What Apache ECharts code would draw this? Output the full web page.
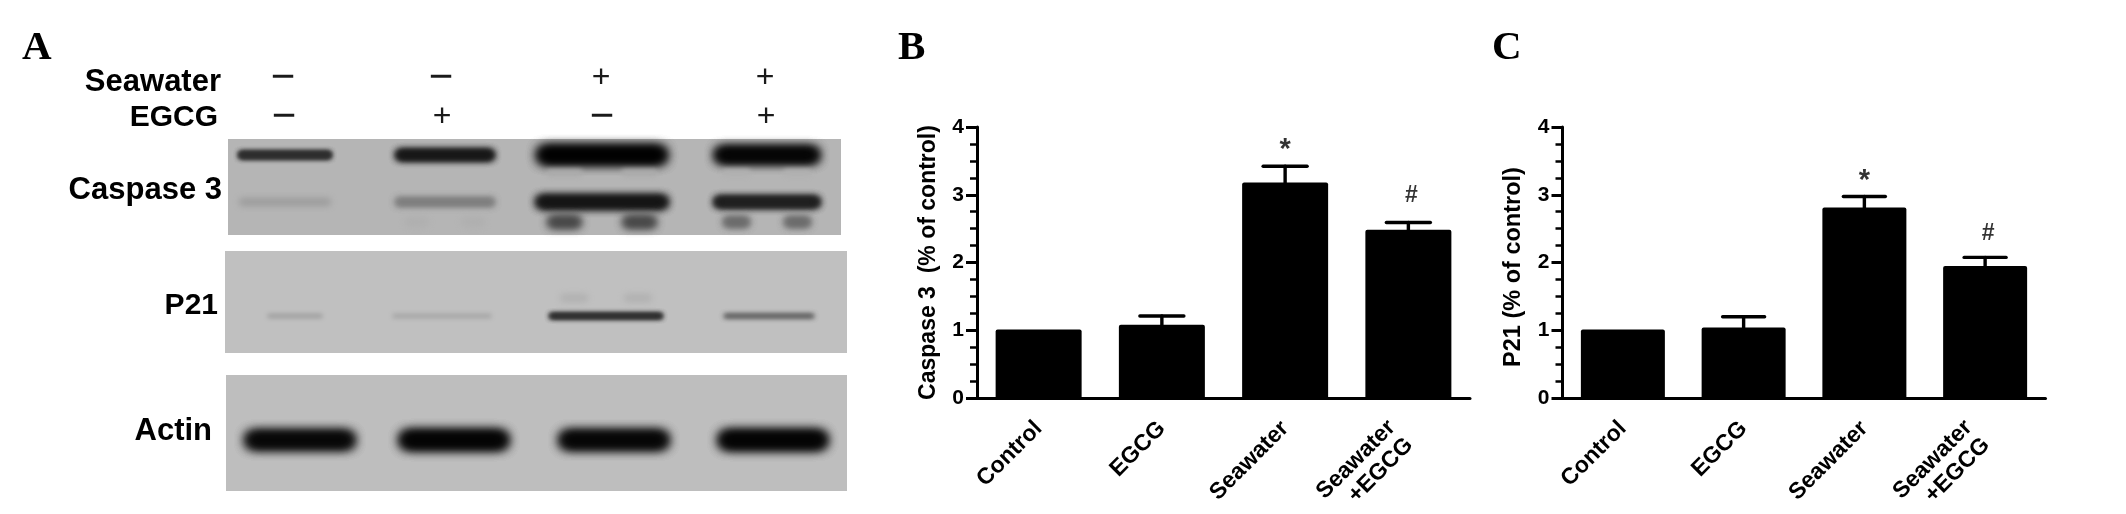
<!DOCTYPE html>
<html><head><meta charset="utf-8">
<style>html,body{margin:0;padding:0;background:#fff}#c{width:2126px;height:514px}</style>
<script src="https://cdn.jsdelivr.net/npm/echarts@6/dist/echarts.min.js"></script>
</head><body><div id="c"></div>
<script>
// ---------- values ----------
const categories = ['Control', 'EGCG', 'Seawater', 'Seawater\n+EGCG'];
const yTicks = [0, 1, 2, 3, 4];
const caspaseValues = [1.01, 1.08, 3.18, 2.485];
const caspaseErrorTop = [null, 1.21, 3.42, 2.59];
const caspaseMarks = [null, null, '*', '#'];
const caspaseMarkLevel = [null, null, 3.75, 2.98];
const p21Values = [1.01, 1.04, 2.81, 1.95];
const p21ErrorTop = [null, 1.2, 2.975, 2.075];
const p21Marks = [null, null, '*', '#'];
const p21MarkLevel = [null, null, 3.29, 2.42];

const seawaterFlags = ['\u2212', '\u2212', '+', '+'];
const egcgFlags = ['\u2212', '+', '\u2212', '+'];

// blot band strength per lane, 0 = nothing, 1 = saturated
const caspaseUpperBand = [0.62, 0.78, 1, 0.95];
const caspaseFaintBand = [0, 0, 0.04, 0.02];
const caspaseLowerBand = [0.1, 0.22, 0.8, 0.72];
const caspaseLowestBand = [0, 0.03, 0.48, 0.3];
const p21Band = [0.2, 0.15, 0.65, 0.45];
const p21SmearBand = [0, 0, 0.02, 0];
const actinBand = [0.92, 0.95, 0.93, 0.95];

// ---------- layout ----------
const W = 2126, H = 514;
const PLOT_TOP = 127, PLOT_H = 271;
const BLOTS = [
  {x:228, y:139, w:613, h:96, bg:'#b5b5b5'},
  {x:225, y:251, w:622, h:102, bg:'#c0c0c0'},
  {x:226, y:375, w:621, h:116, bg:'#bebebe'}
];
const lanesTop = [[57,98],[217,105],[374,139],[539,113]];
const lanesP21 = [[70,60],[217,104],[381,118],[544,95]];
const lanesActin = [[74,118],[228,118],[388,118],[547,118]];
const FONT = '"Liberation Sans", Arial, sans-serif';
const SERIF = '"Liberation Serif", "Times New Roman", serif';

function bandRow(lanes, strengths, rowY, thick, lobes) {
  const out = [];
  strengths.forEach((s, i) => {
    if (!s) return;
    const [cx, w] = lanes[i];
    const t = thick[0] + thick[1] * s * s * s;
    if (lobes) {
      out.push([cx - w * 0.27, rowY, s, w * 0.3, t]);
      out.push([cx + w * 0.27, rowY, s, w * 0.3, t]);
    } else {
      out.push([cx, rowY, s, w, t]);
    }
  });
  return out;
}
function bandItem(params, api) {
  const c = api.coord([api.value(0), api.value(1)]);
  const s = api.value(2), w = api.value(3), t = api.value(4);
  const g = Math.round(183 * (1 - s) * (1 - s) * 0.55 + 183 * (1 - s) * 0.45);
  const col = 'rgb(' + g + ',' + g + ',' + g + ')';
  const OFF = 3000;
  const blur = Math.max(5, t * 0.55);
  const kids = [];
  const passes = s > 0.5 ? 3 : (s > 0.2 ? 2 : 1);
  for (let i = 0; i < passes; i++) {
    kids.push({type:'rect',
      shape:{x:c[0] - w/2 + blur/2 - OFF, y:c[1] - t/2 + blur/4, width:w - blur, height:Math.max(1, t - blur/2), r:t/2},
      style:{fill:col, shadowColor:col, shadowBlur:blur, shadowOffsetX:OFF}, silent:true});
  }
  return {type:'group', children:kids};
}
function blotSeries(gridIndex, data) {
  return {type:'custom', coordinateSystem:'cartesian2d', xAxisIndex:gridIndex, yAxisIndex:gridIndex,
    clip:false, silent:true, renderItem:bandItem, encode:{x:0, y:1}, data};
}
function errorItem(params, api) {
  const i = api.value(0), hi = api.value(1), base = api.value(2);
  const top = api.coord([i, hi]), bot = api.coord([i, base]);
  const half = api.value(3) / 2;
  const st = {stroke:'#000', lineWidth:3.4, lineCap:'round'};
  return {type:'group', children:[
    {type:'line', shape:{x1:top[0], y1:top[1], x2:bot[0], y2:bot[1]}, style:st},
    {type:'line', shape:{x1:top[0]-half, y1:top[1], x2:top[0]+half, y2:top[1]}, style:st}
  ]};
}

function plotSeries(idx, values, errs, marks, levels, barW, capW) {
  return [
    {type:'bar', xAxisIndex:idx, yAxisIndex:idx, data:values, barWidth:barW, silent:true,
      itemStyle:{color:'#000', borderRadius:[2,2,0,0]}},
    {type:'custom', xAxisIndex:idx, yAxisIndex:idx, silent:true, renderItem:errorItem, encode:{x:0,y:1}, z:3,
      data:errs.map((e,i)=> e==null?null:[i,e,values[i],capW]).filter(Boolean)},
    {type:'scatter', xAxisIndex:idx, yAxisIndex:idx, silent:true, symbolSize:1, itemStyle:{color:'transparent'},
      data:levels.map((l,i)=> l==null?null:{value:[i,l], name:marks[i],
        label: marks[i]==='*' ? {fontSize:29, offset:[0,6]} : {fontSize:23, offset:[3,0]}}).filter(Boolean),
      label:{show:true, position:'inside', formatter:p=>p.name, color:'#000',
        fontFamily:FONT, fontWeight:'bold'}}
  ];
}
function plotGrid(left, width){ return {left, top:PLOT_TOP, width, height:PLOT_H, show:false, outerBoundsMode:'none'}; }
function catAxis(idx){
  return {type:'category', gridIndex:idx,
    data:categories.map(c=> c.includes('\n') ? {value:c, textStyle:{padding:[8,11,0,0]}} : c),
    axisLine:{lineStyle:{color:'#000', width:3}, onZero:false},
    axisTick:{alignWithLabel:true, length:10, lineStyle:{color:'#000', width:3}},
    axisLabel:{rotate:45, margin:27, color:'#000', interval:0, fontFamily:FONT, fontWeight:'bold', fontSize:23, lineHeight:25, align:'right'}};
}
function valAxis(idx, name, gap, pad, size){
  return {type:'value', gridIndex:idx, min:0, max:4, interval:1, name, nameLocation:'middle', nameGap:gap,
    nameTextStyle:{color:'#000', fontFamily:FONT, fontWeight:'bold', fontSize:size, padding:pad},
    axisLine:{show:true, lineStyle:{color:'#000', width:3}},
    axisTick:{show:true, length:11, lineStyle:{color:'#000', width:3}},
    minorTick:{show:true, splitNumber:4, length:7, lineStyle:{color:'#000', width:2.5}},
    splitLine:{show:false}, minorSplitLine:{show:false},
    axisLabel:{margin:13, color:'#000', fontFamily:FONT, fontWeight:'bold', fontSize:21,
      formatter:v=> yTicks.includes(v)? String(v):''}};
}
function gelXAxis(i){ return {type:'value', gridIndex:i, min:0, max:BLOTS[i-2].w, show:false}; }
function gelYAxis(i){ return {type:'value', gridIndex:i, min:0, max:BLOTS[i-2].h, inverse:true, show:false}; }

function label(text, right, y, size){
  return {type:'text', x:right, y, silent:true,
    style:{text, fill:'#000', font:'bold '+size+'px '+FONT, textAlign:'right', textVerticalAlign:'middle'}};
}
function letter(text, x, y){
  return {type:'text', x, y, silent:true,
    style:{text, fill:'#000', font:'bold 41px '+SERIF, textAlign:'left', textVerticalAlign:'middle'}};
}
function flag(text, x, y){
  return {type:'text', x, y, silent:true,
    style:{text, fill:'#1a1a1a', font:(text==='+'?32:42)+'px '+FONT, textAlign:'center', textVerticalAlign:'middle'}};
}
const flagX = [283, 441, 601, 765];

const option = {
  animation:false,
  backgroundColor:'#fff',
  grid:[
    plotGrid(977, 493), plotGrid(1562.5, 483),
    ...BLOTS.map(b=>({left:b.x, top:b.y, width:b.w, height:b.h, show:true, backgroundColor:b.bg, borderWidth:0, outerBoundsMode:'none'}))
  ],
  xAxis:[catAxis(0), catAxis(1), gelXAxis(2), gelXAxis(3), gelXAxis(4)],
  yAxis:[valAxis(0,'Caspase 3  (% of control)',37,[0,0,0,0],23), valAxis(1,'P21 (% of control)',37,[0,9,0,0],23.5), gelYAxis(2), gelYAxis(3), gelYAxis(4)],
  series:[
    ...plotSeries(0, caspaseValues, caspaseErrorTop, caspaseMarks, caspaseMarkLevel, 86, 44),
    ...plotSeries(1, p21Values, p21ErrorTop, p21Marks, p21MarkLevel, 84, 42),
    blotSeries(2, [
      ...bandRow(lanesTop, caspaseUpperBand, 16, [6,15]),
      ...bandRow(lanesTop, caspaseFaintBand, 34, [10,0], true),
      ...bandRow(lanesTop, caspaseLowerBand, 63, [11,8]),
      ...bandRow(lanesTop, caspaseLowestBand, 83, [13,20], true)
    ]),
    blotSeries(3, [...bandRow(lanesP21, p21SmearBand, 47, [12,0], true), ...bandRow(lanesP21, p21Band, 65, [5,8])]),
    blotSeries(4, bandRow(lanesActin, actinBand, 65, [11,12]))
  ],
  graphic:[
    letter('A',22,48), letter('B',898,48), letter('C',1492,48),
    label('Seawater',221,82,31), label('EGCG',218,118,30),
    label('Caspase 3',222,190,31), label('P21',218,306,30), label('Actin',212,431,31),
    ...seawaterFlags.map((t,i)=>flag(t,flagX[i],78)),
    ...egcgFlags.map((t,i)=>flag(t,flagX[i]+1,117))
  ]
};
const chart = echarts.init(document.getElementById('c'), null, {renderer:'canvas', width:W, height:H});
chart.setOption(option);
</script></body></html>
